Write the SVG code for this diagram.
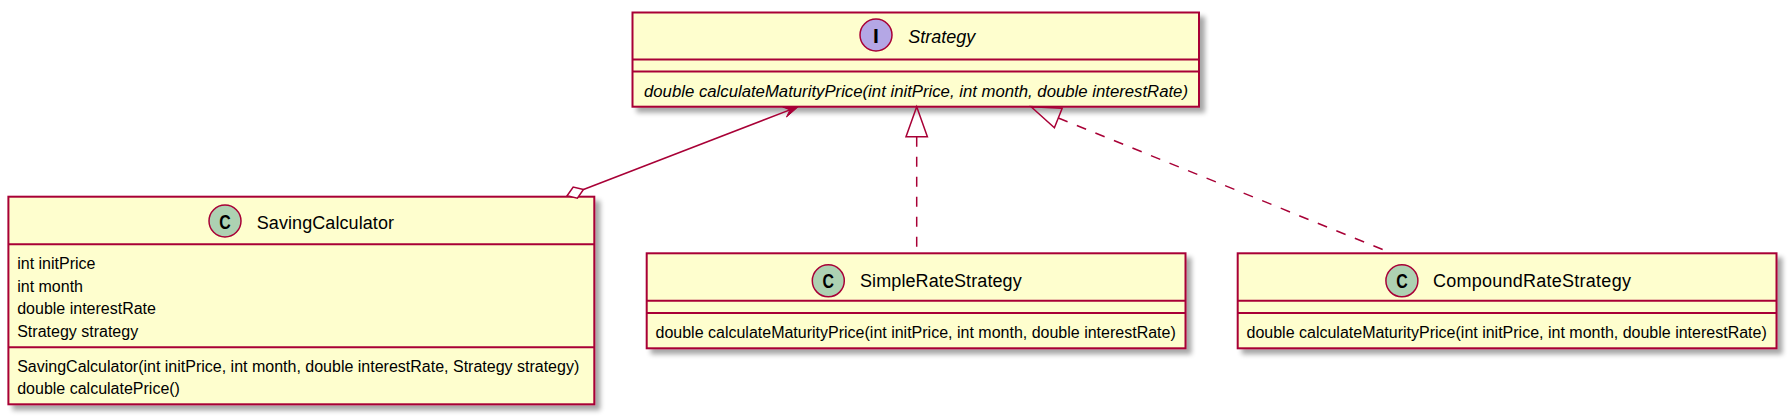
<svg xmlns="http://www.w3.org/2000/svg" width="1791" height="419" viewBox="0 0 1791 419">
<defs>
<style>
.box{fill:#FEFECE;stroke:#A80036;stroke-width:2}
.sep{stroke:#A80036;stroke-width:2}
.cc{fill:#ADD1B2;stroke:#A80036;stroke-width:1.5}
.ci{fill:#B4A7E5;stroke:#A80036;stroke-width:1.5}
.name{font-family:"Liberation Sans",Arial,sans-serif;font-size:18px;fill:#000}
.mem{font-family:"Liberation Sans",Arial,sans-serif;font-size:16px;fill:#000}
.it{font-style:italic}
.glyph{font-family:"Liberation Sans",Arial,sans-serif;font-weight:bold;font-size:21px;fill:#000;text-anchor:middle}
.link{fill:none;stroke:#A80036;stroke-width:1.5}
.dash{stroke-dasharray:10,10}
</style>
<filter id="shadow" x="-5%" y="-10%" width="115%" height="130%">
<feGaussianBlur in="SourceAlpha" stdDeviation="2.5" result="b"/>
<feOffset in="b" dx="5" dy="5" result="o"/>
<feComponentTransfer in="o" result="s"><feFuncA type="linear" slope="0.35"/></feComponentTransfer>
<feMerge><feMergeNode in="s"/><feMergeNode in="SourceGraphic"/></feMerge>
</filter>
</defs>
<rect width="1791" height="419" fill="#fff"/>

<g id="Strategy">
<rect class="box" x="632.5" y="12.5" width="566.5" height="94.2" filter="url(#shadow)"/>
<circle class="ci" cx="876" cy="35" r="16"/>
<text class="glyph" x="876" y="42.5">I</text>
<text class="name it" x="908.3" y="43.3">Strategy</text>
<line class="sep" x1="632.5" y1="59.5" x2="1199" y2="59.5"/>
<line class="sep" x1="632.5" y1="71.5" x2="1199" y2="71.5"/>
<text class="mem it" x="644" y="96.7" textLength="544" lengthAdjust="spacingAndGlyphs">double calculateMaturityPrice(int initPrice, int month, double interestRate)</text>
</g>

<g id="SavingCalculator">
<rect class="box" x="8.4" y="196.7" width="585.9" height="207.6" filter="url(#shadow)"/>
<circle class="cc" cx="225" cy="221" r="16"/>
<text class="glyph" x="225" y="228.5" textLength="11.5" lengthAdjust="spacingAndGlyphs">C</text>
<text class="name" x="256.7" y="229.3" textLength="137.3" lengthAdjust="spacing">SavingCalculator</text>
<line class="sep" x1="8.4" y1="244.3" x2="594.3" y2="244.3"/>
<text class="mem" x="17.2" y="269.3">int initPrice</text>
<text class="mem" x="17.2" y="291.7">int month</text>
<text class="mem" x="17.2" y="314">double interestRate</text>
<text class="mem" x="17.2" y="336.7">Strategy strategy</text>
<line class="sep" x1="8.4" y1="347.3" x2="594.3" y2="347.3"/>
<text class="mem" x="17.2" y="371.7">SavingCalculator(int initPrice, int month, double interestRate, Strategy strategy)</text>
<text class="mem" x="17.2" y="394">double calculatePrice()</text>
</g>

<g id="SimpleRateStrategy">
<rect class="box" x="646.7" y="253.3" width="538.8" height="95" filter="url(#shadow)"/>
<circle class="cc" cx="828.3" cy="280.8" r="16"/>
<text class="glyph" x="828.3" y="288.3" textLength="11.5" lengthAdjust="spacingAndGlyphs">C</text>
<text class="name" x="860" y="287.3" textLength="161.7" lengthAdjust="spacing">SimpleRateStrategy</text>
<line class="sep" x1="646.7" y1="300.7" x2="1185.5" y2="300.7"/>
<line class="sep" x1="646.7" y1="313" x2="1185.5" y2="313"/>
<text class="mem" x="655.5" y="338.3">double calculateMaturityPrice(int initPrice, int month, double interestRate)</text>
</g>

<g id="CompoundRateStrategy">
<rect class="box" x="1237.7" y="253.3" width="538.8" height="95" filter="url(#shadow)"/>
<circle class="cc" cx="1401.9" cy="280.8" r="16"/>
<text class="glyph" x="1401.9" y="288.3" textLength="11.5" lengthAdjust="spacingAndGlyphs">C</text>
<text class="name" x="1432.9" y="287.3" textLength="198" lengthAdjust="spacing">CompoundRateStrategy</text>
<line class="sep" x1="1237.7" y1="300.7" x2="1776.5" y2="300.7"/>
<line class="sep" x1="1237.7" y1="313" x2="1776.5" y2="313"/>
<text class="mem" x="1246.5" y="338.3">double calculateMaturityPrice(int initPrice, int month, double interestRate)</text>
</g>

<g id="connectors">
<polygon class="link" points="567.1,195.7 573.2,187 583.5,189.5 577.4,198.2" style="fill:#fff"/>
<line class="link" x1="583.5" y1="189.5" x2="789.9" y2="109.9"/>
<polygon points="798.3,106.7 786.5,117 789.9,109.9 782.7,107" fill="#A80036" stroke="#A80036" stroke-width="1"/>
<polygon class="link" points="916.7,106.7 906,136.7 927.4,136.7"/>
<line class="link dash" x1="916.7" y1="136.7" x2="916.7" y2="253.3"/>
<polygon class="link" points="1031.1,106.7 1054.4,127.7 1062.2,108.3"/>
<line class="link dash" x1="1058.3" y1="118" x2="1392" y2="253.3"/>
</g>
</svg>
